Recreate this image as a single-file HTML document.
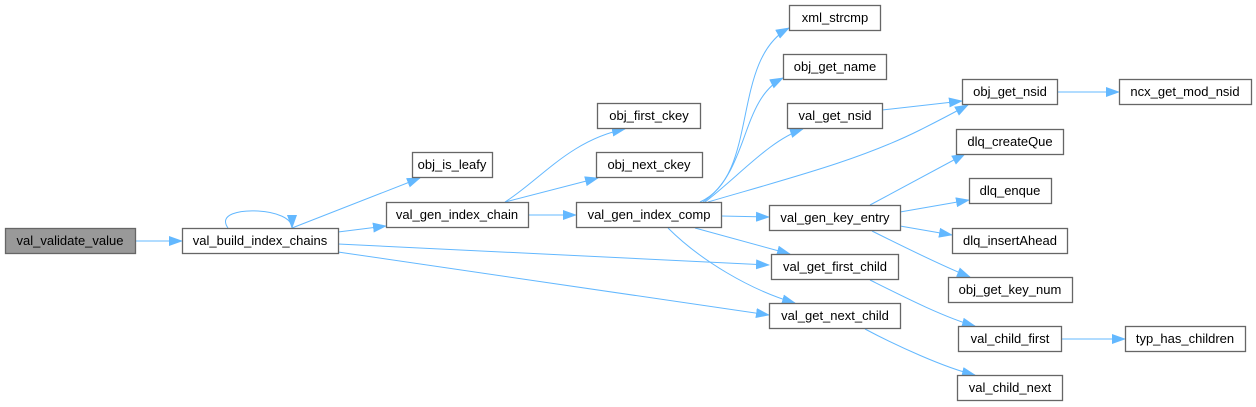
<!DOCTYPE html>
<html><head><meta charset="utf-8"><style>
html,body{margin:0;padding:0;background:#fff;width:1256px;height:407px;overflow:hidden}
svg text{font-family:"Liberation Sans",Arial,sans-serif;font-size:13px;fill:#000}
</style></head><body>
<svg width="1256" height="407" viewBox="0 0 1256 407" xmlns="http://www.w3.org/2000/svg">
<defs><marker id="a" markerWidth="14" markerHeight="10" refX="13" refY="5" orient="auto" markerUnits="userSpaceOnUse"><path d="M0,0 L14,5 L0,10 z" fill="#63b8ff"/></marker></defs>
<g fill="none" stroke="#63b8ff" stroke-width="1" marker-end="url(#a)">
<path d="M135,241 L182,241"/>
<path d="M228,228 C218,214 240,210 258,211 C276,212 292,218 292,228"/>
<path d="M292,228 L420,178"/>
<path d="M338,232 L386,226"/>
<path d="M338,244 L769,265"/>
<path d="M338,252 L769,315"/>
<path d="M505,202 C540,180 570,140 625,129"/>
<path d="M505,202 L598,178"/>
<path d="M528,215 L576,215"/>
<path d="M700,202 C760,175 730,60 789,28"/>
<path d="M703,202 C750,170 740,100 783,78"/>
<path d="M705,202 C740,175 770,140 803,129"/>
<path d="M708,202 C790,178 860,160 920,130 C940,120 955,112 968,105"/>
<path d="M721,216 L769,217"/>
<path d="M695,228 L790,254"/>
<path d="M668,228 C700,260 750,290 795,303"/>
<path d="M882,110 L962,101"/>
<path d="M1057,92 L1119,92"/>
<path d="M870,205 L965,154"/>
<path d="M900,212 L969,200"/>
<path d="M900,226 L952,235"/>
<path d="M872,231 C900,245 940,265 970,277"/>
<path d="M870,280 C900,295 945,318 975,326"/>
<path d="M865,329 C895,345 945,368 975,375"/>
<path d="M1061,339 L1125,339"/>
</g>
<g stroke="#666" stroke-width="1.3" fill="#fff">
<rect x="5.5" y="228.5" width="130" height="25" fill="#999"/>
<rect x="182.5" y="228.5" width="156" height="25"/>
<rect x="412.5" y="152.5" width="80" height="25"/>
<rect x="386.5" y="202.5" width="142" height="25"/>
<rect x="597.5" y="103.5" width="103" height="25"/>
<rect x="596.5" y="152.5" width="106" height="25"/>
<rect x="576.5" y="202.5" width="145" height="25"/>
<rect x="789.5" y="5.5" width="91" height="25"/>
<rect x="783.5" y="54.5" width="103" height="25"/>
<rect x="787.5" y="103.5" width="95" height="25"/>
<rect x="962.5" y="79.5" width="95" height="25"/>
<rect x="1119.5" y="79.5" width="132" height="25"/>
<rect x="956.5" y="129.5" width="107" height="25"/>
<rect x="969.5" y="178.5" width="82" height="25"/>
<rect x="769.5" y="205.5" width="131" height="25"/>
<rect x="952.5" y="228.5" width="115" height="25"/>
<rect x="771.5" y="254.5" width="127" height="25"/>
<rect x="948.5" y="277.5" width="124" height="25"/>
<rect x="769.5" y="303.5" width="131" height="25"/>
<rect x="958.5" y="326.5" width="103" height="25"/>
<rect x="1125.5" y="326.5" width="120" height="25"/>
<rect x="957.5" y="375.5" width="105" height="25"/>
</g>
<g text-anchor="middle">
<text x="70" y="245">val_validate_value</text>
<text x="260" y="245">val_build_index_chains</text>
<text x="452" y="169">obj_is_leafy</text>
<text x="457" y="219">val_gen_index_chain</text>
<text x="649" y="120">obj_first_ckey</text>
<text x="649" y="169">obj_next_ckey</text>
<text x="649" y="219">val_gen_index_comp</text>
<text x="835" y="22">xml_strcmp</text>
<text x="835" y="71">obj_get_name</text>
<text x="835" y="120">val_get_nsid</text>
<text x="1010" y="96">obj_get_nsid</text>
<text x="1185" y="96">ncx_get_mod_nsid</text>
<text x="1010" y="146">dlq_createQue</text>
<text x="1010" y="195">dlq_enque</text>
<text x="835" y="222">val_gen_key_entry</text>
<text x="1010" y="245">dlq_insertAhead</text>
<text x="835" y="271">val_get_first_child</text>
<text x="1010" y="294">obj_get_key_num</text>
<text x="835" y="320">val_get_next_child</text>
<text x="1010" y="343">val_child_first</text>
<text x="1185" y="343">typ_has_children</text>
<text x="1010" y="392">val_child_next</text>
</g>
</svg>
</body></html>
